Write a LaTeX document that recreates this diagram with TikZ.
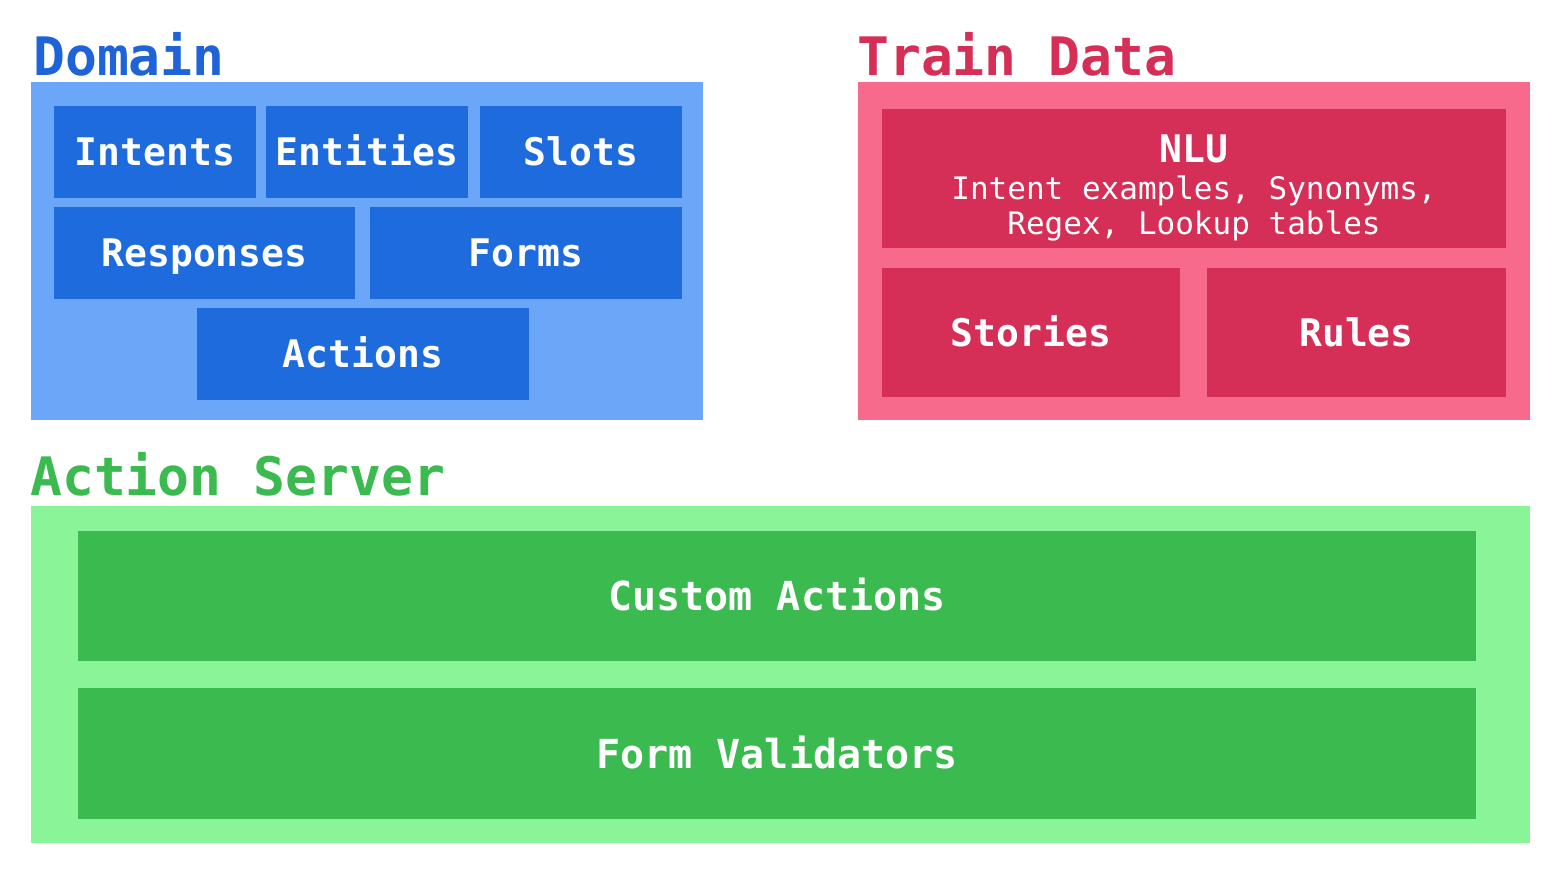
\documentclass[tikz,border=0pt]{standalone}
\usepackage{fontspec}
\setmonofont{DejaVu Sans Mono}
\newfontfamily\labfont{DejaVu Sans Mono}
\definecolor{dlight}{HTML}{6CA6F8}
\definecolor{ddark}{HTML}{1E6BDE}
\definecolor{dtitle}{HTML}{1E63D8}
\definecolor{tlight}{HTML}{F76A8C}
\definecolor{tdark}{HTML}{D52F57}
\definecolor{glight}{HTML}{8AF598}
\definecolor{gdark}{HTML}{3BBA4F}
\tikzset{
  outerbox/.style={draw=none, inner sep=0pt, anchor=north west},
  cell/.style={draw=none, inner sep=0pt, text=white, font=\labfont\bfseries\fontsize{38}{40}\selectfont,
     text height=27pt, text depth=0pt, align=center},
  title/.style={anchor=base west, inner sep=0pt, font=\labfont\bfseries\fontsize{53}{55}\selectfont},
  desc/.style={anchor=base, inner sep=0pt, text=white, font=\labfont\fontsize{31}{33}\selectfont},
}
\begin{document}
\begin{tikzpicture}[x=1pt,y=-1pt]
\useasboundingbox (0,0) rectangle (1558,876);
\fill[white] (0,0) rectangle (1558,876);

% Domain
\node[title, text=dtitle] (domtitle) at (33,75) {Domain};
\node[outerbox, fill=dlight, minimum width=672pt, minimum height=338pt] (domain) at (31,82) {};
\node[cell, fill=ddark, minimum width=202pt, minimum height=92pt] (intents) at (155,152) {Intents};
\node[cell, fill=ddark, minimum width=202pt, minimum height=92pt] (entities) at (367,152) {Entities};
\node[cell, fill=ddark, minimum width=202pt, minimum height=92pt] (slots) at (581,152) {Slots};
\node[cell, fill=ddark, minimum width=301pt, minimum height=92pt] (responses) at (204.5,253) {Responses};
\node[cell, fill=ddark, minimum width=312pt, minimum height=92pt] (forms) at (526,253) {Forms};
\node[cell, fill=ddark, minimum width=332pt, minimum height=92pt] (actions) at (363,354) {Actions};

% Train Data
\node[title, text=tdark] (trtitle) at (857,75) {Train Data};
\node[outerbox, fill=tlight, minimum width=672pt, minimum height=338pt] (train) at (858,82) {};
\node[outerbox, fill=tdark, minimum width=624pt, minimum height=139pt] (nlu) at (882,109) {};
\node[desc, font=\labfont\bfseries\fontsize{38}{40}\selectfont] (nlut) at (1194,162) {NLU};
\node[desc] (nlu1) at (1194,199) {Intent examples, Synonyms,};
\node[desc] (nlu2) at (1194,234) {Regex, Lookup tables};
\node[cell, fill=tdark, minimum width=298pt, minimum height=129pt] (stories) at (1031,332.5) {Stories};
\node[cell, fill=tdark, minimum width=299pt, minimum height=129pt] (rules) at (1356.5,332.5) {Rules};

% Action Server
\node[title, text=gdark] (astitle) at (30,495) {Action Server};
\node[outerbox, fill=glight, minimum width=1499pt, minimum height=337pt] (server) at (31,506) {};
\node[cell, fill=gdark, minimum width=1398pt, minimum height=130pt, font=\labfont\bfseries\fontsize{40}{42}\selectfont, text height=29pt] (custom) at (777,596) {Custom Actions};
\node[cell, fill=gdark, minimum width=1398pt, minimum height=131pt, font=\labfont\bfseries\fontsize{40}{42}\selectfont, text height=29pt] (validators) at (777,753.5) {Form Validators};
\end{tikzpicture}
\end{document}
